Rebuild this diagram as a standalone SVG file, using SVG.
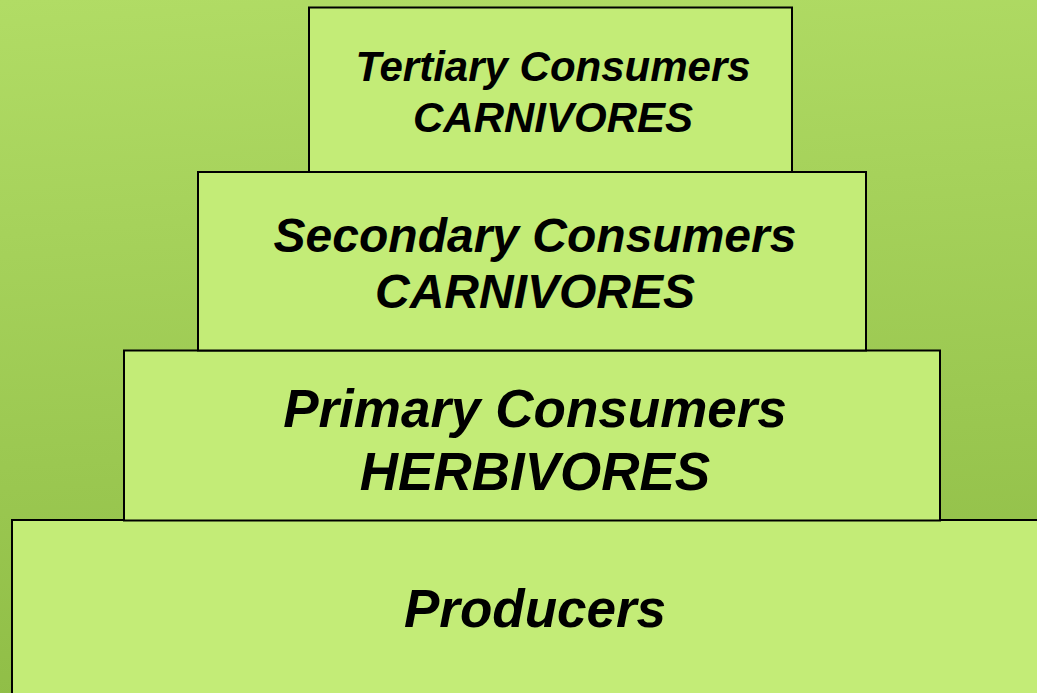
<svg xmlns="http://www.w3.org/2000/svg" width="1037" height="693" viewBox="0 0 1037 693">
<defs>
<linearGradient id="bg" x1="0" y1="0" x2="0.1" y2="1">
<stop offset="0" stop-color="#b1dc65"/>
<stop offset="1" stop-color="#90be47"/>
</linearGradient>
<style>
.box{fill:#c3ec77;stroke:#000;stroke-width:2}
.t{font-family:"Liberation Sans",Arial,sans-serif;font-weight:bold;font-style:italic;fill:#000;text-anchor:middle}
</style>
</defs>
<rect x="0" y="0" width="1037" height="693" fill="url(#bg)"/>
<g id="producers">
<rect class="box" x="12" y="520" width="1040" height="190"/>
<text class="t" x="535" y="627" font-size="53">Producers</text>
</g>
<g id="primary">
<rect class="box" x="124" y="350.5" width="816" height="170"/>
<text class="t" x="535" y="427" font-size="53">Primary Consumers</text>
<text class="t" x="535" y="490" font-size="53">HERBIVORES</text>
</g>
<g id="secondary">
<rect class="box" x="198" y="172" width="668" height="178.5"/>
<text class="t" x="535" y="252" font-size="48">Secondary Consumers</text>
<text class="t" x="535" y="308" font-size="48">CARNIVORES</text>
</g>
<g id="tertiary">
<rect class="box" x="309" y="7.5" width="483" height="164.5"/>
<text class="t" x="553" y="81" font-size="42">Tertiary Consumers</text>
<text class="t" x="553" y="132" font-size="42">CARNIVORES</text>
</g>
<g id="connectors"/>
</svg>
